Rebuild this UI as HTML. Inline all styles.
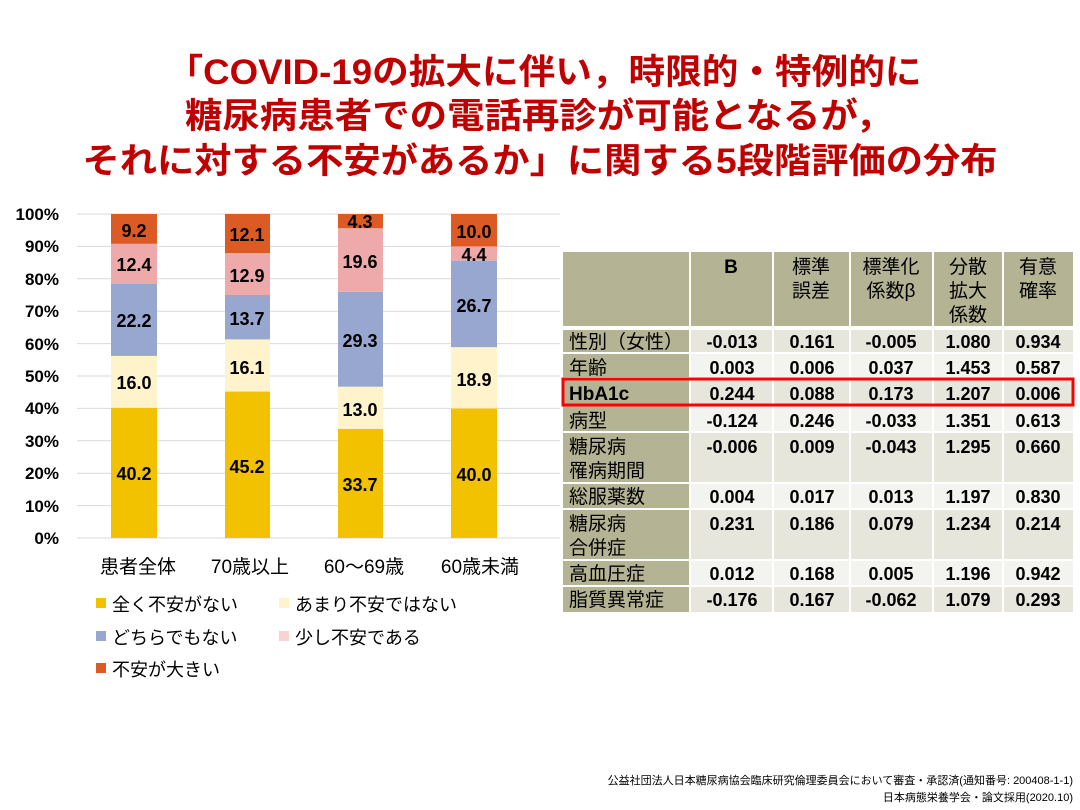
<!DOCTYPE html>
<html><head><meta charset="utf-8"><style>
html,body{margin:0;padding:0;background:#fff;}
svg{display:block;}
text{font-family:"Liberation Sans","Noto Sans CJK JP",sans-serif;}
</style></head><body>
<svg width="1080" height="810" viewBox="0 0 1080 810" xmlns="http://www.w3.org/2000/svg">
<g fill="#c00000" font-weight="bold" font-size="35" text-anchor="middle">
<text x="544" y="84" textLength="755" lengthAdjust="spacingAndGlyphs">「COVID-19の拡大に伴い，時限的・特例的に</text>
<text x="539" y="128" textLength="708" lengthAdjust="spacingAndGlyphs">糖尿病患者での電話再診が可能となるが，</text>
<text x="540" y="173" textLength="915" lengthAdjust="spacingAndGlyphs">それに対する不安があるか」に関する5段階評価の分布</text>
</g>
<g stroke="#d9d9d9" stroke-width="1">
<line x1="77" x2="560" y1="214" y2="214"/><line x1="77" x2="560" y1="246.4" y2="246.4"/><line x1="77" x2="560" y1="278.8" y2="278.8"/><line x1="77" x2="560" y1="311.2" y2="311.2"/><line x1="77" x2="560" y1="343.6" y2="343.6"/><line x1="77" x2="560" y1="376" y2="376"/><line x1="77" x2="560" y1="408.4" y2="408.4"/><line x1="77" x2="560" y1="440.8" y2="440.8"/><line x1="77" x2="560" y1="473.2" y2="473.2"/><line x1="77" x2="560" y1="505.6" y2="505.6"/><line x1="77" x2="560" y1="538" y2="538"/>
</g>
<g font-size="17" font-weight="bold" text-anchor="end" fill="#000">
<text x="59" y="220">100%</text><text x="59" y="252">90%</text><text x="59" y="285">80%</text><text x="59" y="317">70%</text><text x="59" y="350">60%</text><text x="59" y="382">50%</text><text x="59" y="414">40%</text><text x="59" y="447">30%</text><text x="59" y="479">20%</text><text x="59" y="512">10%</text><text x="59" y="544">0%</text>
</g>
<g transform="translate(0,538) scale(1,-3.24)">
<rect x="111" width="46" y="0" height="40.2" fill="#f2c100"/><rect x="111" width="46" y="40.2" height="16" fill="#fff3cc"/><rect x="111" width="46" y="56.2" height="22.2" fill="#97a7cf"/><rect x="111" width="46" y="78.4" height="12.4" fill="#eea9aa"/><rect x="111" width="46" y="90.8" height="9.2" fill="#dc5a24"/>
<rect x="225" width="45" y="0" height="45.2" fill="#f2c100"/><rect x="225" width="45" y="45.2" height="16.1" fill="#fff3cc"/><rect x="225" width="45" y="61.3" height="13.7" fill="#97a7cf"/><rect x="225" width="45" y="75" height="12.9" fill="#eea9aa"/><rect x="225" width="45" y="87.9" height="12.1" fill="#dc5a24"/>
<rect x="338" width="45" y="0" height="33.7" fill="#f2c100"/><rect x="338" width="45" y="33.7" height="13" fill="#fff3cc"/><rect x="338" width="45" y="46.7" height="29.3" fill="#97a7cf"/><rect x="338" width="45" y="76" height="19.6" fill="#eea9aa"/><rect x="338" width="45" y="95.6" height="4.4" fill="#dc5a24"/>
<rect x="451" width="46" y="0" height="40" fill="#f2c100"/><rect x="451" width="46" y="40" height="18.9" fill="#fff3cc"/><rect x="451" width="46" y="58.9" height="26.7" fill="#97a7cf"/><rect x="451" width="46" y="85.6" height="4.4" fill="#eea9aa"/><rect x="451" width="46" y="90" height="10" fill="#dc5a24"/>
</g>
<g font-size="18" font-weight="bold" text-anchor="middle" fill="#000">
<text x="134" y="480">40.2</text><text x="134" y="389">16.0</text><text x="134" y="327">22.2</text><text x="134" y="271">12.4</text><text x="134" y="237">9.2</text>
<text x="247" y="473">45.2</text><text x="247" y="374">16.1</text><text x="247" y="325">13.7</text><text x="247" y="282">12.9</text><text x="247" y="241">12.1</text>
<text x="360" y="491">33.7</text><text x="360" y="416">13.0</text><text x="360" y="347">29.3</text><text x="360" y="268">19.6</text><text x="360" y="228">4.3</text>
<text x="474" y="481">40.0</text><text x="474" y="386">18.9</text><text x="474" y="312">26.7</text><text x="474" y="261">4.4</text><text x="474" y="238">10.0</text>
</g>
<g font-size="19" text-anchor="middle" fill="#000">
<text x="138" y="573">患者全体</text><text x="250" y="573">70歳以上</text><text x="364" y="573">60～69歳</text><text x="480" y="573">60歳未満</text>
</g>
<g font-size="18" fill="#000">
<rect x="96" y="598" width="10" height="10" fill="#f2c100"/><text x="112" y="611">全く不安がない</text>
<rect x="279" y="598" width="10" height="10" fill="#fff3cc"/><text x="295" y="611">あまり不安ではない</text>
<rect x="96" y="631" width="10" height="10" fill="#97a7cf"/><text x="112" y="644">どちらでもない</text>
<rect x="279" y="631" width="10" height="10" fill="#f8d3d3"/><text x="295" y="644">少し不安である</text>
<rect x="96" y="663" width="10" height="10" fill="#dc5a24"/><text x="112" y="676">不安が大きい</text>
</g>
<g>
<rect x="563" y="252" width="510" height="74" fill="#b4b393"/>
<rect x="563" y="330" width="127" height="282" fill="#b4b393"/>
<rect x="690" y="330" width="383" height="23" fill="#e7e6dd"/>
<rect x="690" y="353" width="383" height="25" fill="#f3f3ef"/>
<rect x="690" y="378" width="383" height="27" fill="#e7e6dd"/>
<rect x="690" y="405" width="383" height="27" fill="#f3f3ef"/>
<rect x="690" y="432" width="383" height="51" fill="#e7e6dd"/>
<rect x="690" y="483" width="383" height="26" fill="#f3f3ef"/>
<rect x="690" y="509" width="383" height="51" fill="#e7e6dd"/>
<rect x="690" y="560" width="383" height="26" fill="#f3f3ef"/>
<rect x="690" y="586" width="383" height="26" fill="#e7e6dd"/>
<g stroke="#fff" stroke-width="2">
<line x1="690" x2="690" y1="252" y2="612"/><line x1="773" x2="773" y1="252" y2="612"/><line x1="850" x2="850" y1="252" y2="612"/><line x1="933" x2="933" y1="252" y2="612"/><line x1="1003" x2="1003" y1="252" y2="612"/>
<line x1="563" x2="1073" y1="328" y2="328" stroke-width="4"/>
<line x1="563" x2="1073" y1="353" y2="353"/><line x1="563" x2="1073" y1="378" y2="378"/><line x1="563" x2="1073" y1="405" y2="405"/><line x1="563" x2="1073" y1="432" y2="432"/><line x1="563" x2="1073" y1="483" y2="483"/><line x1="563" x2="1073" y1="509" y2="509"/><line x1="563" x2="1073" y1="560" y2="560"/><line x1="563" x2="1073" y1="586" y2="586"/>
</g>
<g font-size="19" fill="#000" text-anchor="middle">
<text x="731" y="273" font-weight="bold">B</text>
<text x="811" y="273">標準</text><text x="811" y="297">誤差</text>
<text x="891" y="273">標準化</text><text x="891" y="297">係数β</text>
<text x="968" y="273">分散</text><text x="968" y="297">拡大</text><text x="968" y="321">係数</text>
<text x="1038" y="273">有意</text><text x="1038" y="297">確率</text>
</g>
<g font-size="19" fill="#000">
<text x="569" y="348">性別（女性）</text><text x="569" y="374">年齢</text><text x="569" y="400" font-weight="bold">HbA1c</text><text x="569" y="427">病型</text><text x="569" y="453">糖尿病</text><text x="569" y="477">罹病期間</text><text x="569" y="503">総服薬数</text><text x="569" y="530">糖尿病</text><text x="569" y="554">合併症</text><text x="569" y="580">高血圧症</text><text x="569" y="606">脂質異常症</text>
</g>
<g font-size="18" font-weight="bold" fill="#000" text-anchor="middle">
<text x="732" y="348">-0.013</text><text x="812" y="348">0.161</text><text x="891" y="348">-0.005</text><text x="968" y="348">1.080</text><text x="1038" y="348">0.934</text>
<text x="732" y="374">0.003</text><text x="812" y="374">0.006</text><text x="891" y="374">0.037</text><text x="968" y="374">1.453</text><text x="1038" y="374">0.587</text>
<text x="732" y="400">0.244</text><text x="812" y="400">0.088</text><text x="891" y="400">0.173</text><text x="968" y="400">1.207</text><text x="1038" y="400">0.006</text>
<text x="732" y="427">-0.124</text><text x="812" y="427">0.246</text><text x="891" y="427">-0.033</text><text x="968" y="427">1.351</text><text x="1038" y="427">0.613</text>
<text x="732" y="453">-0.006</text><text x="812" y="453">0.009</text><text x="891" y="453">-0.043</text><text x="968" y="453">1.295</text><text x="1038" y="453">0.660</text>
<text x="732" y="503">0.004</text><text x="812" y="503">0.017</text><text x="891" y="503">0.013</text><text x="968" y="503">1.197</text><text x="1038" y="503">0.830</text>
<text x="732" y="530">0.231</text><text x="812" y="530">0.186</text><text x="891" y="530">0.079</text><text x="968" y="530">1.234</text><text x="1038" y="530">0.214</text>
<text x="732" y="580">0.012</text><text x="812" y="580">0.168</text><text x="891" y="580">0.005</text><text x="968" y="580">1.196</text><text x="1038" y="580">0.942</text>
<text x="732" y="606">-0.176</text><text x="812" y="606">0.167</text><text x="891" y="606">-0.062</text><text x="968" y="606">1.079</text><text x="1038" y="606">0.293</text>
</g>
<rect x="563" y="379" width="510" height="26" fill="none" stroke="#ff0000" stroke-width="3"/>
</g>
<g font-size="11" fill="#000" text-anchor="end">
<text x="1073" y="784">公益社団法人日本糖尿病協会臨床研究倫理委員会において審査・承認済(通知番号: 200408-1-1)</text>
<text x="1073" y="801">日本病態栄養学会・論文採用(2020.10)</text>
</g>
</svg>
</body></html>
